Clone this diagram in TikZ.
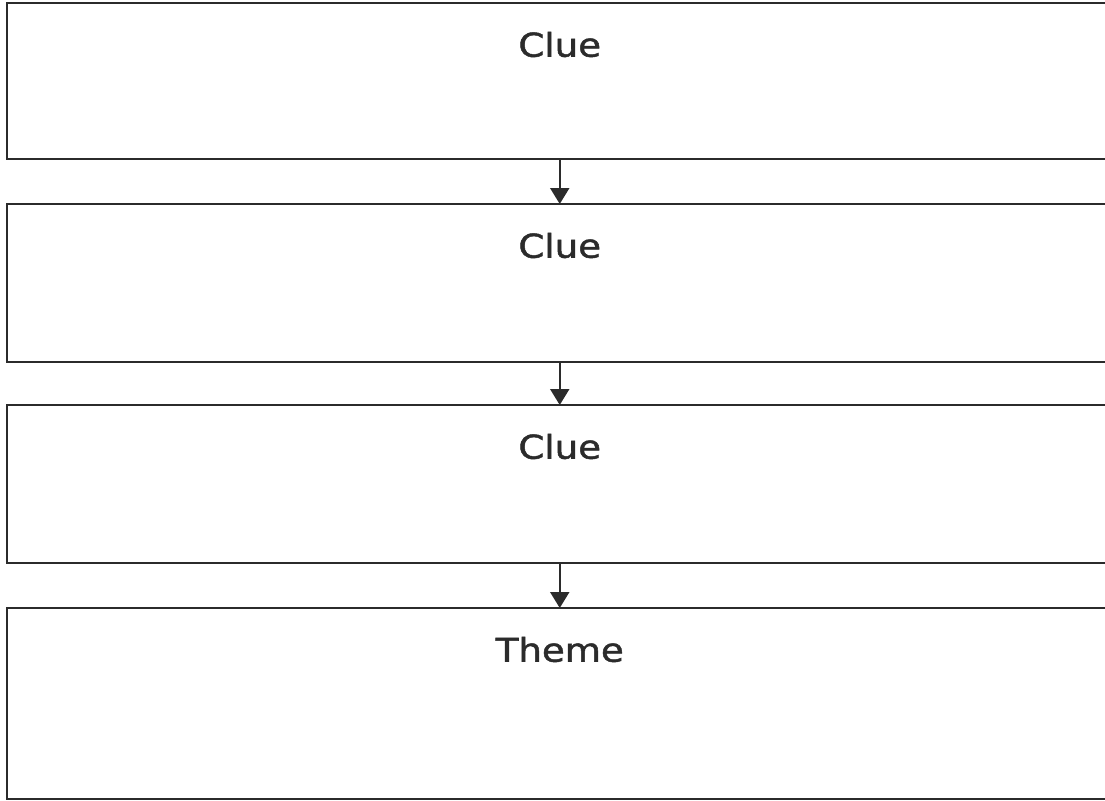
\documentclass[tikz,border=0pt]{standalone}
\usepackage{tikz}
\usepackage{fontspec}
\newfontfamily\cluefont{DejaVu Sans}[FakeBold=1.4]
\definecolor{pag}{HTML}{2B2B2B}
\usetikzlibrary{positioning}
\usetikzlibrary{arrows.meta}
\tikzset{
	cluebox/.style={draw=pag, line width=1.2pt, minimum width=22.11cm, inner sep=0pt, outer sep=0pt},
	cluetext/.style={font=\fontsize{18.7}{22}\selectfont\cluefont, text=pag, xscale=1.13},
	cluearrow/.style={draw=pag, line width=1.2pt, -{Triangle[width=3.8mm,length=3.2mm]}}
}

\begin{document}
\begin{tikzpicture}

		\useasboundingbox (0,0) rectangle (22.1,-16.02);

		% Boxes
		\node[cluebox, minimum height=3.12cm, anchor=north west] (clueA) at (0.14,-0.06) {};
		\node[cluebox, minimum height=3.16cm, below=0.9cm of clueA] (clueB) {};
		\node[cluebox, minimum height=3.16cm, below=0.86cm of clueB] (clueC) {};
		\node[cluebox, minimum height=3.82cm, below=0.9cm of clueC] (theme) {};

		% Titles
		\node[cluetext] (clueAtxt) at ([yshift=-0.83cm]clueA.north) {Clue};
		\node[cluetext] (clueBtxt) at ([yshift=-0.83cm]clueB.north) {Clue};
		\node[cluetext] (clueCtxt) at ([yshift=-0.83cm]clueC.north) {Clue};
		\node[cluetext] (themetxt) at ([yshift=-0.83cm]theme.north) {Theme};

		% Arrows
		\draw[cluearrow] (clueA.south) -- (clueB.north);
		\draw[cluearrow] (clueB.south) -- (clueC.north);
		\draw[cluearrow] (clueC.south) -- (theme.north);

	\end{tikzpicture}
\end{document}
